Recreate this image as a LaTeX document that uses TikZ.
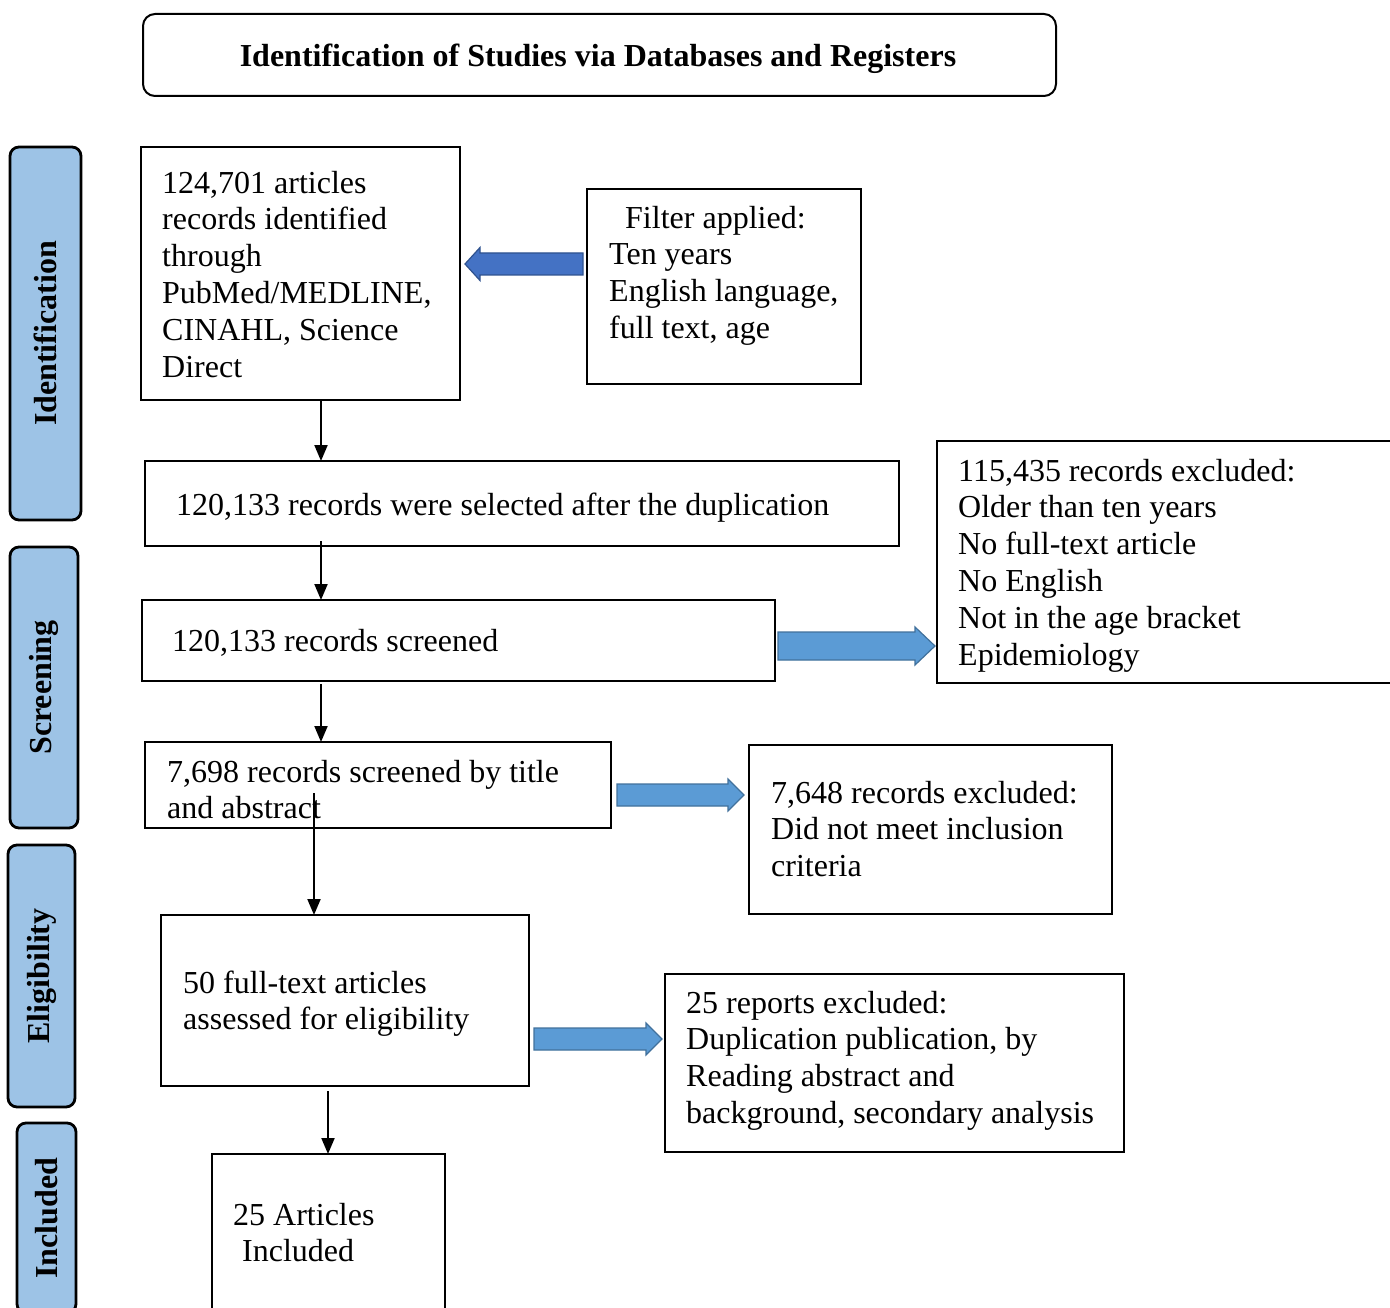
\documentclass[tikz,border=0pt]{standalone}
\usepackage{fontspec}
\setmainfont{Liberation Serif}
\usetikzlibrary{arrows.meta,calc}
\definecolor{sideblue}{HTML}{9DC3E6}
\definecolor{darkblue}{HTML}{4472C4}
\definecolor{darkblueedge}{HTML}{2F528F}
\definecolor{midblue}{HTML}{5B9BD5}
\definecolor{midblueedge}{HTML}{41719C}
\newcommand\blockarr[7]{%
  \filldraw[#7] (#1,#4-#5) -- (#2,#4-#5) -- (#2,#4-#6) -- (#3,#4) -- (#2,#4+#6) -- (#2,#4+#5) -- (#1,#4+#5) -- cycle;}
\begin{document}
\begin{tikzpicture}[x=1pt,y=-1pt,
  box/.style={draw,line width=2.2pt,anchor=north west,inner sep=0pt,outer sep=0pt},
  txt/.style={anchor=north west,inner sep=0pt,align=left,font=\fontsize{32}{36.8}\selectfont},
  side/.style={draw,line width=2.8pt,fill=sideblue,rounded corners=9pt,rotate=90,inner sep=0pt,font=\bfseries\fontsize{32}{36}\selectfont},
  arr/.style={line width=2pt,-{Triangle[width=13pt,length=16pt]}},
  leftblock/.style={fill=darkblue,draw=darkblueedge,line width=1.2pt},
  rightblock/.style={fill=midblue,draw=midblueedge,line width=1.2pt}]
\useasboundingbox (0,0) rectangle (1390,1308);
\fill[white] (0,0) rectangle (1390,1308);

% title
\node[draw,line width=2pt,rounded corners=12pt,anchor=north west,minimum width=913pt,minimum height=82pt,inner sep=0pt] (title) at (142,13) {};
\node[font=\bfseries\fontsize{32}{36}\selectfont,inner sep=0pt] (titletxt) at (598,59) {Identification of Studies via Databases and Registers};

% side labels
\node[side,minimum width=373pt,minimum height=71pt] (sid) at (45.5,333.5) {Identification};
\node[side,minimum width=281pt,minimum height=68pt] (sscr) at (44,687.5) {Screening};
\node[side,minimum width=262pt,minimum height=67pt] (selig) at (41.5,976) {Eligibility};
\node[side,minimum width=190pt,minimum height=59pt] (sinc) at (46.5,1218) {Included};

% boxes
\node[box,minimum width=319pt,minimum height=253pt] (b1) at (141,147) {};
\node[box,minimum width=274pt,minimum height=195pt] (bf) at (587,189) {};
\node[box,minimum width=754pt,minimum height=85pt] (b2) at (145,461) {};
\node[box,minimum width=633pt,minimum height=81pt] (b3) at (142,600) {};
\node[box,minimum width=470pt,minimum height=242pt] (bx1) at (937,441) {};
\node[box,minimum width=466pt,minimum height=86pt] (b4) at (145,742) {};
\node[box,minimum width=363pt,minimum height=169pt] (bx2) at (749,745) {};
\node[box,minimum width=368pt,minimum height=171pt] (b5) at (161,915) {};
\node[box,minimum width=459pt,minimum height=178pt] (bx3) at (665,974) {};
\node[box,minimum width=233pt,minimum height=180pt] (b6) at (212,1154) {};

% texts
\node[txt] (t1) at (162,167.2) {\strut 124,701 articles\\records identified\\through\\PubMed/MEDLINE,\\CINAHL, Science\\Direct};
\node[txt] (tf) at (609,202.2) {\strut\hspace*{16pt}Filter applied:\\Ten years\\English language,\\full text, age};
\node[txt] (t2) at (176,489.2) {\strut 120,133 records were selected after the duplication};
\node[txt] (t3) at (172,625.2) {\strut 120,133 records screened};
\node[txt] (tx1) at (958,455.2) {\strut 115,435 records excluded:\\Older than ten years\\No full-text article\\No English\\Not in the age bracket\\Epidemiology};
\node[txt] (t4) at (167,756.2) {\strut 7,698 records screened by title\\and abstract};
\node[txt] (tx2) at (771,777.2) {\strut 7,648 records excluded:\\Did not meet inclusion\\criteria};
\node[txt] (t5) at (183,967.2) {\strut 50 full-text articles\\assessed for eligibility};
\node[txt] (tx3) at (686,987.2) {\strut 25 reports excluded:\\Duplication publication, by\\Reading abstract and\\background, secondary analysis};
\node[txt] (t6) at (233,1199.2) {\strut 25 Articles\\\hspace*{9pt}Included};

% black arrows
\coordinate (c1) at (321,400);
\draw[arr] (c1) -- (c1 |- b2.north);
\coordinate (c2) at (321,541);
\draw[arr] (c2) -- (c2 |- b3.north);
\coordinate (c3) at (321,684);
\draw[arr] (c3) -- (c3 |- b4.north);
\coordinate (c4) at (314,793);
\draw[arr] (c4) -- (c4 |- b5.north);
\coordinate (c5) at (328,1091);
\draw[arr] (c5) -- (c5 |- b6.north);

% block arrows
\blockarr{583}{480}{465}{264}{11}{16.5}{leftblock}
\blockarr{778}{915}{935}{646}{14}{19}{rightblock}
\blockarr{617}{728}{744}{795}{11}{16}{rightblock}
\blockarr{534}{646}{662}{1039}{11}{16}{rightblock}
\end{tikzpicture}
\end{document}
